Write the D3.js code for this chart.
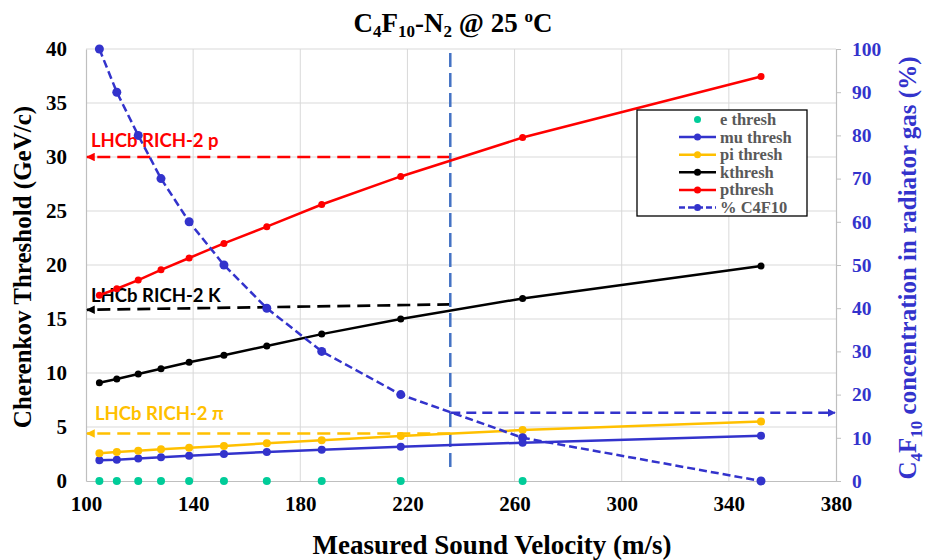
<!DOCTYPE html>
<html>
<head>
<meta charset="utf-8">
<script src="https://cdn.jsdelivr.net/npm/d3@7"></script>
<style>
  body { margin: 0; background: #fff; }
  svg { display: block; }
  .serif { font-family: "Liberation Serif", "Times New Roman", serif; font-weight: bold; }
  .note { font-family: Lato, "Open Sans", sans-serif; font-weight: bold; }
</style>
</head>
<body>
<div id="chart"></div>
<script>
// sound velocity (m/s) for each gas mixture
var velocity = [105, 111.5, 119.5, 128, 138.5, 151.5, 167.5, 188, 217.5, 263, 352];
// Cherenkov thresholds (GeV/c)
var eThresh  = [0.01, 0.01, 0.01, 0.01, 0.01, 0.01, 0.01, 0.01, 0.01, 0.01, 0.01];
var muThresh = [1.92, 1.97, 2.08, 2.19, 2.34, 2.50, 2.69, 2.90, 3.18, 3.55, 4.20];
var piThresh = [2.56, 2.69, 2.81, 2.94, 3.08, 3.24, 3.49, 3.77, 4.17, 4.72, 5.52];
var kThresh  = [9.1, 9.45, 9.9, 10.4, 11.0, 11.65, 12.5, 13.6, 15.0, 16.9, 19.9];
var pThresh  = [17.2, 17.8, 18.6, 19.55, 20.65, 22.0, 23.55, 25.6, 28.2, 31.8, 37.45];
// C4F10 fraction in radiator gas (%)
var c4f10Pct = [100, 90, 80, 70, 60, 50, 40, 30, 20, 10, 0];

var xTicks = [100, 140, 180, 220, 260, 300, 340, 380];
var yTicks = [0, 5, 10, 15, 20, 25, 30, 35, 40];
var y2Ticks = [0, 10, 20, 30, 40, 50, 60, 70, 80, 90, 100];

var seriesNames = ["e thresh", "mu thresh", "pi thresh", "kthresh", "pthresh", "% C4F10"];

// RICH-2 working point
var cutVelocity = 236;
var richLabels = ["LHCb RICH-2 p", "LHCb RICH-2 K", "LHCb RICH-2 \u03c0"];
var richStart = [30, 16.35, 4.4];   // value at the cut velocity
var richEnd = [30, 15.85, 4.4];     // value at the left axis
var cutPct = 15.8;

var W = 933, H = 560;
var margin = {top: 49, right: 97, bottom: 79, left: 86};
var width = W - margin.left - margin.right,
    height = H - margin.top - margin.bottom;

var svg = d3.select("#chart").append("svg")
    .attr("width", W)
    .attr("height", H);

var defs = svg.append("defs");
function arrowMarker(id, color) {
    defs.append("marker")
        .attr("id", id)
        .attr("viewBox", "0 0 10 10")
        .attr("refX", 9).attr("refY", 5)
        .attr("markerWidth", 3.2).attr("markerHeight", 3.2)
        .attr("orient", "auto")
      .append("path")
        .attr("d", "M0,0 L10,5 L0,10 Z")
        .attr("fill", color);
}
arrowMarker("arr-red", "#ff0000");
arrowMarker("arr-black", "#000000");
arrowMarker("arr-yellow", "#ffc000");
arrowMarker("arr-blue", "#3333cc");

var g = svg.append("g")
    .attr("transform", "translate(" + margin.left + "," + margin.top + ")");

var x = d3.scaleLinear().domain([100, 380]).range([0, width]);
var y = d3.scaleLinear().domain([0, 40]).range([height, 0]);
var y2 = d3.scaleLinear().domain([0, 100]).range([height, 0]);

// grid
g.append("g").selectAll("line").data(yTicks.slice(1)).enter().append("line")
    .attr("x1", 0).attr("x2", width)
    .attr("y1", function(d) { return y(d); }).attr("y2", function(d) { return y(d); })
    .attr("stroke", "#d9d9d9").attr("stroke-width", 1);
g.append("g").selectAll("line").data(xTicks.slice(1, -1)).enter().append("line")
    .attr("x1", function(d) { return x(d); }).attr("x2", function(d) { return x(d); })
    .attr("y1", 0).attr("y2", height)
    .attr("stroke", "#d9d9d9").attr("stroke-width", 1);

// axes
var xAxis = d3.axisBottom(x).tickValues(xTicks).tickSize(0).tickPadding(15);
var yAxis = d3.axisLeft(y).tickValues(yTicks).tickSize(0).tickPadding(19);
var y2Axis = d3.axisRight(y2).tickValues(y2Ticks).tickSize(5).tickPadding(11);

var gx = g.append("g").attr("transform", "translate(0," + height + ")").call(xAxis);
var gy = g.append("g").call(yAxis);
var gy2 = g.append("g").attr("transform", "translate(" + width + ",0)").call(y2Axis);

[gx, gy, gy2].forEach(function(ax) {
    ax.select(".domain").attr("stroke", "#bfbfbf").attr("stroke-width", 1.2);
    ax.selectAll("text").attr("class", "serif").attr("font-size", 21);
});
gx.selectAll("text").attr("fill", "#000");
gy.selectAll("text").attr("fill", "#000");
gy2.selectAll("text").attr("fill", "#3333cc").attr("font-size", 19.5);
gy2.selectAll(".tick line").attr("stroke", "#bfbfbf");

// RICH-2 annotations
var annColors = ["#ff0000", "#000000", "#ffc000"];
var annMarkers = ["arr-red", "arr-black", "arr-yellow"];
var annLabelDy = [-10, -8, -13];
richLabels.forEach(function(lbl, i) {
    g.append("line")
        .attr("x1", x(cutVelocity)).attr("y1", y(richStart[i]))
        .attr("x2", x(100) + 1).attr("y2", y(richEnd[i]))
        .attr("stroke", annColors[i]).attr("stroke-width", 2.7)
        .attr("stroke-dasharray", "13,7")
        .attr("marker-end", "url(#" + annMarkers[i] + ")");
    g.append("text")
        .attr("class", "note")
        .attr("x", x(100) + (i === 2 ? 9 : 5))
        .attr("y", y(richEnd[i]) + annLabelDy[i])
        .attr("font-size", 18.5)
        .attr("fill", annColors[i])
        .text(lbl);
});

// cut velocity marker
g.append("line")
    .attr("x1", x(cutVelocity)).attr("x2", x(cutVelocity))
    .attr("y1", 4).attr("y2", height - 9)
    .attr("stroke", "#4472c4").attr("stroke-width", 2.5)
    .attr("stroke-dasharray", "14,6");
g.append("line")
    .attr("x1", x(cutVelocity)).attr("x2", width - 1)
    .attr("y1", y2(cutPct)).attr("y2", y2(cutPct))
    .attr("stroke", "#3333cc").attr("stroke-width", 2.5)
    .attr("stroke-dasharray", "10,6")
    .attr("marker-end", "url(#arr-blue)");

// series
function drawSeries(values, scale, color, r, dash, lineOn) {
    var pts = velocity.map(function(v, i) { return [v, values[i]]; });
    if (lineOn) {
        var line = d3.line()
            .x(function(d) { return x(d[0]); })
            .y(function(d) { return scale(d[1]); });
        g.append("path")
            .datum(pts)
            .attr("d", line)
            .attr("fill", "none")
            .attr("stroke", color)
            .attr("stroke-width", 2.5)
            .attr("stroke-dasharray", dash);
    }
    g.append("g").selectAll("circle").data(pts).enter().append("circle")
        .attr("cx", function(d) { return x(d[0]); })
        .attr("cy", function(d) { return scale(d[1]); })
        .attr("r", r)
        .attr("fill", color);
}
drawSeries(eThresh, y, "#00cc99", 4, null, false);
drawSeries(muThresh, y, "#3333cc", 4, null, true);
drawSeries(piThresh, y, "#ffc000", 4, null, true);
drawSeries(kThresh, y, "#000000", 3.5, null, true);
drawSeries(pThresh, y, "#ff0000", 3.5, null, true);
drawSeries(c4f10Pct, y2, "#3333cc", 4.5, "8,4", true);

// legend
var legColors = ["#00cc99", "#3333cc", "#ffc000", "#000000", "#ff0000", "#3333cc"];
var leg = svg.append("g").attr("transform", "translate(637,110)");
leg.append("rect")
    .attr("width", 170).attr("height", 106)
    .attr("fill", "#fff").attr("stroke", "#000").attr("stroke-width", 1.3);
seriesNames.forEach(function(name, i) {
    var ly = 9.5 + i * 17.6;
    if (i > 0) {
        leg.append("line")
            .attr("x1", 42).attr("x2", 79).attr("y1", ly).attr("y2", ly)
            .attr("stroke", legColors[i]).attr("stroke-width", 2.5)
            .attr("stroke-dasharray", i === 5 ? "6,3" : null);
    }
    leg.append("circle").attr("cx", 60.5).attr("cy", ly).attr("r", 3.5).attr("fill", legColors[i]);
    leg.append("text")
        .attr("class", "serif")
        .attr("x", 83).attr("y", ly + 5.5)
        .attr("font-size", 16.5)
        .attr("fill", "#595959")
        .text(name);
});

// titles
var title = svg.append("text")
    .attr("class", "serif")
    .attr("x", 453).attr("y", 32)
    .attr("text-anchor", "middle")
    .attr("font-size", 27);
title.append("tspan").text("C");
title.append("tspan").attr("font-size", 17).attr("dy", 5).text("4");
title.append("tspan").attr("dy", -5).text("F");
title.append("tspan").attr("font-size", 17).attr("dy", 5).text("10");
title.append("tspan").attr("dy", -5).text("-N");
title.append("tspan").attr("font-size", 17).attr("dy", 5).text("2");
title.append("tspan").attr("dy", -5).text(" @ 25 ");
title.append("tspan").attr("font-size", 17).attr("dy", -10).text("o");
title.append("tspan").attr("dy", 10).text("C");

svg.append("text")
    .attr("class", "serif")
    .attr("x", 492).attr("y", 554)
    .attr("text-anchor", "middle")
    .attr("font-size", 27)
    .text("Measured Sound Velocity (m/s)");

svg.append("text")
    .attr("class", "serif")
    .attr("transform", "translate(31,267) rotate(-90)")
    .attr("text-anchor", "middle")
    .attr("font-size", 25)
    .text("Cherenkov Threshold (GeV/c)");

var rt = svg.append("text")
    .attr("class", "serif")
    .attr("transform", "translate(916,268) rotate(-90)")
    .attr("text-anchor", "middle")
    .attr("font-size", 25)
    .attr("fill", "#3333cc");
rt.append("tspan").text("C");
rt.append("tspan").attr("font-size", 17).attr("dy", 6).text("4");
rt.append("tspan").attr("dy", -6).text("F");
rt.append("tspan").attr("font-size", 17).attr("dy", 6).text("10");
rt.append("tspan").attr("dy", -6).text(" concentration in radiator gas (%)");
</script>
</body>
</html>
